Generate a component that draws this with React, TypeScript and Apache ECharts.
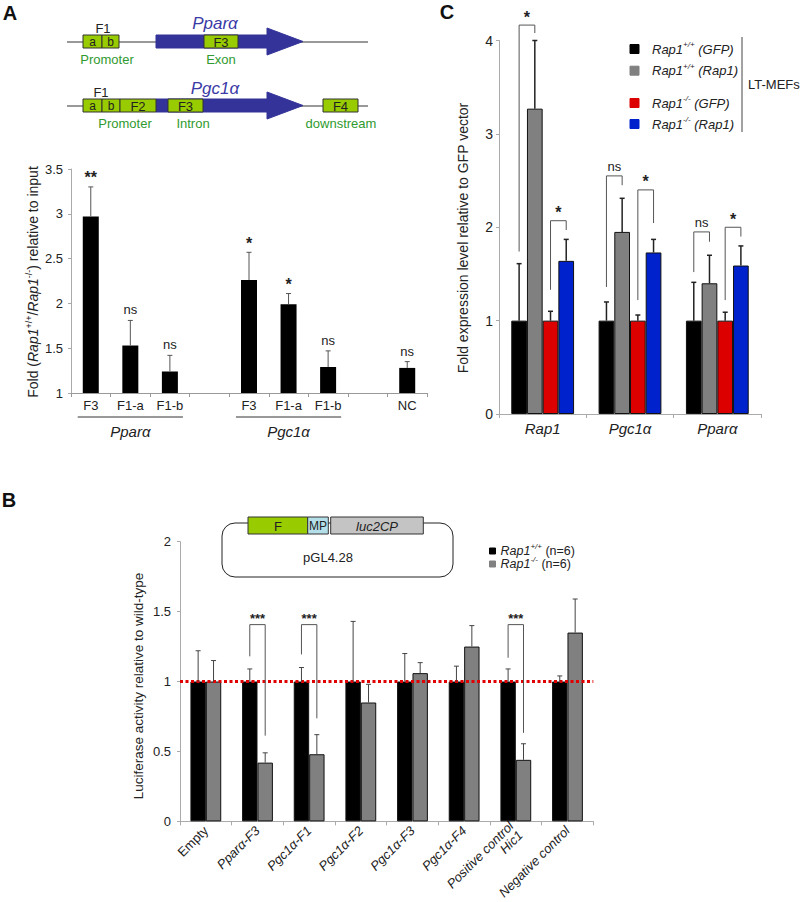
import React, { useEffect, useRef } from 'react';
import * as echarts from 'echarts';

const FONT = '"Liberation Sans", Arial, Helvetica, sans-serif';

// ---------- Panel A (ChIP) ----------
const aCategories = ['F3', 'F1-a', 'F1-b', '', 'F3', 'F1-a', 'F1-b', '', 'NC'];
const aValues = [2.97, 1.53, 1.24, null, 2.26, 1.99, 1.29, null, 1.28];
const aErrorTops = [3.3, 1.81, 1.42, null, 2.57, 2.11, 1.47, null, 1.35];
const aSignificance = ['**', 'ns', 'ns', '', '*', '*', 'ns', '', 'ns'];
const aGroupNames = ['Pparα', 'Pgc1α'];
const aGroupRanges = [[0, 2], [4, 6]];

// ---------- Panel C (expression) ----------
const cCategories = ['Rap1', 'Pgc1α', 'Pparα'];
const cSeriesNames = ['Rap1+/+ (GFP)', 'Rap1+/+ (Rap1)', 'Rap1-/- (GFP)', 'Rap1-/- (Rap1)'];
const cWtGfp = [1, 1, 1];
const cWtRap1 = [3.27, 1.95, 1.4];
const cKoGfp = [1, 1, 1];
const cKoRap1 = [1.64, 1.73, 1.59];
const cWtGfpErr = [1.61, 1.2, 1.41];
const cWtRap1Err = [4.0, 2.31, 1.7];
const cKoGfpErr = [1.1, 1.06, 1.09];
const cKoRap1Err = [1.87, 1.87, 1.8];
// [category, left series, right series, top, left leg end, right leg end]
const cBrackets = [
  [0, 0, 1, 4.165, 1.74, 4.08],
  [0, 2, 3, 2.07, 1.33, 1.97],
  [1, 0, 1, 2.55, 1.36, 2.45],
  [1, 2, 3, 2.4, 1.22, 2.045],
  [2, 0, 1, 1.95, 1.52, 1.845],
  [2, 2, 3, 2.0, 1.22, 1.9],
];
const cBracketLabels = ['*', '*', 'ns', '*', 'ns', '*'];
const cLegendGroup = 'LT-MEFs';

// ---------- Panel B (luciferase) ----------
const bCategories = ['Empty', 'Pparα-F3', 'Pgc1α-F1', 'Pgc1α-F2', 'Pgc1α-F3', 'Pgc1α-F4', 'Positive control\nHic1', 'Negative control'];
const bSeriesNames = ['Rap1+/+ (n=6)', 'Rap1-/- (n=6)'];
const bWt = [1, 1, 1, 1, 1, 1, 1, 1];
const bKo = [1, 0.42, 0.48, 0.85, 1.06, 1.25, 0.44, 1.35];
const bWtErr = [1.22, 1.09, 1.1, 1.43, 1.2, 1.11, 1.09, 1.04];
const bKoErr = [1.15, 0.49, 0.62, 0.98, 1.135, 1.4, 0.555, 1.59];
// [category, top, left leg end, right leg end]
const bBrackets = [
  [1, 1.407, 1.18, 0.613],
  [2, 1.407, 1.194, 0.737],
  [6, 1.407, 1.17, 0.633],
];
const bBracketLabels = ['***', '***', '***'];
const bReference = 1;

// ---------- layout ----------
const gridA = { left: 71, top: 169, width: 356, height: 224 };
const gridC = { left: 499, top: 40.5, width: 262, height: 373.5 };
const gridB = { left: 180, top: 541.7, width: 413.3, height: 281.3 };
const bwA = 16;
const bwC = 15.7;
const bwB = 15.4;

const GREEN_BOX = '#99cc00';
const GREEN_TXT = '#2f9a2f';
const BLUE_GENE = '#333399';
const BLUE_TXT = '#3a3aa6';

function txt(x: number, y: number, text: string, o: any = {}) {
  return {
    type: 'text',
    x,
    y,
    rotation: o.rotation || 0,
    silent: true,
    style: {
      text,
      fill: o.fill || '#222',
      fontSize: o.fontSize || 13,
      fontFamily: FONT,
      fontStyle: o.italic ? 'italic' : 'normal',
      fontWeight: o.bold ? 'bold' : 'normal',
      align: o.align || 'center',
      verticalAlign: o.va || 'middle',
      textAlign: o.align || 'center',
      textVerticalAlign: o.va || 'middle',
      rich: o.rich,
    },
  };
}
function rect(x: number, y: number, w: number, h: number, fill: string, stroke = '#333', r = 0) {
  return { type: 'rect', silent: true, shape: { x, y, width: w, height: h, r }, style: { fill, stroke, lineWidth: 1 } };
}
function line(x1: number, y1: number, x2: number, y2: number, stroke = '#333', lw = 1) {
  return { type: 'line', silent: true, shape: { x1, y1, x2, y2 }, style: { stroke, lineWidth: lw } };
}
function arrow(x0: number, x1: number, tip: number, yc: number, hb: number, hh: number) {
  return {
    type: 'polygon',
    silent: true,
    shape: {
      points: [
        [x0, yc - hb], [x1, yc - hb], [x1, yc - hh], [tip, yc], [x1, yc + hh], [x1, yc + hb], [x0, yc + hb],
      ],
    },
    style: { fill: BLUE_GENE, stroke: BLUE_GENE },
  };
}

function supRich(size: number) {
  return {
    i: { fontStyle: 'italic', fontSize: size, fontFamily: FONT, lineHeight: size + 4, fill: '#222' },
    n: { fontSize: size, fontFamily: FONT, lineHeight: size + 4, fill: '#222' },
    s: { fontStyle: 'italic', fontSize: Math.round(size * 0.62), fontFamily: FONT, verticalAlign: 'top', lineHeight: size + 4, fill: '#222' },
    sn: { fontSize: Math.round(size * 0.62), fontFamily: FONT, verticalAlign: 'top', lineHeight: size + 4, fill: '#222' },
  };
}
function genoRich(name: string, restItalic: boolean) {
  const m = name.match(/^(Rap1)([+\-]\/[+\-]) (.*)$/);
  if (!m) return name;
  return `{i|${m[1]}}{s|${m[2]}}{${restItalic ? 'i' : 'n'}| ${m[3]}}`;
}

function errorSeries(axisIdx: number, data: any[], n: number, bw: number, stroke: string, lw: number, labels?: string[]) {
  return {
    type: 'custom',
    xAxisIndex: axisIdx,
    yAxisIndex: axisIdx,
    z: 5,
    silent: true,
    clip: false,
    data,
    encode: { x: 0, y: 1 },
    renderItem: (params: any, api: any) => {
      const cat = api.value(0);
      const base = api.coord([cat, api.value(1)]);
      const top = api.coord([cat, api.value(2)]);
      const x = base[0] + (api.value(3) - (n - 1) / 2) * bw;
      const children: any[] = [
        { type: 'line', shape: { x1: x, y1: base[1], x2: x, y2: top[1] }, style: { stroke, lineWidth: lw } },
        { type: 'line', shape: { x1: x - 2.5, y1: top[1], x2: x + 2.5, y2: top[1] }, style: { stroke, lineWidth: lw } },
      ];
      if (labels) {
        const lab = labels[cat];
        if (lab) {
          const isStar = lab.indexOf('*') >= 0;
          children.push({
            type: 'text',
            x,
            y: top[1] - (isStar ? 1 : 4),
            style: {
              text: lab,
              fontSize: isStar ? 16 : 13,
              fontFamily: FONT,
              fontWeight: isStar ? 'bold' : 'normal',
              fill: '#222',
              align: 'center',
              verticalAlign: 'bottom',
              textAlign: 'center',
              textVerticalAlign: 'bottom',
            },
          });
        }
      }
      return { type: 'group', children };
    },
  };
}

function bracketSeries(axisIdx: number, data: any[], n: number, bw: number, labels: string[], starSize: number, nsSize: number) {
  return {
    type: 'custom',
    xAxisIndex: axisIdx,
    yAxisIndex: axisIdx,
    z: 6,
    silent: true,
    clip: false,
    data,
    encode: { x: 0, y: 1 },
    renderItem: (params: any, api: any) => {
      const cat = api.value(0);
      const cx = api.coord([cat, 0])[0];
      const top = api.coord([cat, api.value(1)])[1];
      const lb = api.coord([cat, api.value(2)])[1];
      const rb = api.coord([cat, api.value(3)])[1];
      const xl = cx + (api.value(4) - (n - 1) / 2) * bw;
      const xr = cx + (api.value(5) - (n - 1) / 2) * bw;
      const lab = labels[params.dataIndex];
      const isStar = lab.indexOf('*') >= 0;
      return {
        type: 'group',
        children: [
          { type: 'polyline', shape: { points: [[xl, lb], [xl, top], [xr, top], [xr, rb]] }, style: { stroke: '#555', fill: 'none', lineWidth: 1 } },
          {
            type: 'text',
            x: (xl + xr) / 2,
            y: top - (isStar ? 0 : 3),
            style: {
              text: lab,
              fontSize: isStar ? starSize : nsSize,
              fontWeight: isStar ? 'bold' : 'normal',
              fontFamily: FONT,
              fill: '#222',
              align: 'center',
              verticalAlign: 'bottom',
              textAlign: 'center',
              textVerticalAlign: 'bottom',
            },
          },
        ],
      };
    },
  };
}

function yAxisBase(gridIndex: number, min: number, max: number, interval: number, fontSize: number, margin: number) {
  return {
    type: 'value',
    gridIndex,
    min,
    max,
    interval,
    splitLine: { show: false },
    axisLine: { show: true, lineStyle: { color: '#aaa', width: 1 } },
    axisTick: { show: true, length: 3, lineStyle: { color: '#aaa' } },
    axisLabel: { fontSize, color: '#222', fontFamily: FONT, margin },
  };
}

export default function App() {
  const ref = useRef<HTMLDivElement>(null);
  useEffect(() => {
    const chart = echarts.init(ref.current!, undefined, { renderer: 'svg' });

    const slotA = gridA.width / aCategories.length;
    const graphic: any[] = [];

    // Panel letters
    graphic.push(txt(10, 13, 'A', { fontSize: 20, bold: true, fill: '#111' }));
    graphic.push(txt(447, 12, 'C', { fontSize: 20, bold: true, fill: '#111' }));
    graphic.push(txt(9, 500, 'B', { fontSize: 20, bold: true, fill: '#111' }));

    // Panel A gene diagram - Ppar alpha
    graphic.push(line(67, 42, 368, 42));
    graphic.push(arrow(156, 267, 303, 41.5, 6.5, 13.5));
    graphic.push(rect(83, 35, 19, 13, GREEN_BOX));
    graphic.push(rect(102, 35, 17, 13, GREEN_BOX));
    graphic.push(rect(204, 35, 34, 13, GREEN_BOX));
    graphic.push(txt(92.5, 42, 'a', { fontSize: 12 }));
    graphic.push(txt(110.5, 42, 'b', { fontSize: 12 }));
    graphic.push(txt(221, 42, 'F3', { fontSize: 13 }));
    graphic.push(txt(103, 28, 'F1', { fontSize: 13 }));
    graphic.push(txt(107, 59, 'Promoter', { fontSize: 13, fill: GREEN_TXT }));
    graphic.push(txt(221, 59, 'Exon', { fontSize: 13, fill: GREEN_TXT }));
    graphic.push(txt(215, 23, 'Pparα', { fontSize: 17, italic: true, fill: BLUE_TXT }));

    // Pgc1 alpha
    graphic.push(line(67, 106, 368, 106));
    graphic.push(arrow(156, 267, 303, 105.5, 6.5, 13.5));
    graphic.push(rect(83, 99, 19, 13, GREEN_BOX));
    graphic.push(rect(102, 99, 18, 13, GREEN_BOX));
    graphic.push(rect(120, 99, 36, 13, GREEN_BOX));
    graphic.push(rect(168, 99, 35, 13, GREEN_BOX));
    graphic.push(rect(323, 99, 35, 13, GREEN_BOX));
    graphic.push(txt(92.5, 106, 'a', { fontSize: 12 }));
    graphic.push(txt(111, 106, 'b', { fontSize: 12 }));
    graphic.push(txt(138, 106, 'F2', { fontSize: 13 }));
    graphic.push(txt(185.5, 106, 'F3', { fontSize: 13 }));
    graphic.push(txt(340.5, 106, 'F4', { fontSize: 13 }));
    graphic.push(txt(101, 92, 'F1', { fontSize: 13 }));
    graphic.push(txt(125, 123, 'Promoter', { fontSize: 13, fill: GREEN_TXT }));
    graphic.push(txt(193, 123, 'Intron', { fontSize: 13, fill: GREEN_TXT }));
    graphic.push(txt(341, 123, 'downstream', { fontSize: 13, fill: GREEN_TXT }));
    graphic.push(txt(215, 88, 'Pgc1α', { fontSize: 17, italic: true, fill: BLUE_TXT }));

    // Panel A y title
    graphic.push(
      txt(33, 282, '{n|Fold (}{i|Rap1}{sn|+/+}{n|/}{i|Rap1}{sn|-/-}{n|) relative to input}', {
        rotation: Math.PI / 2,
        rich: supRich(14),
      })
    );
    // Panel A group labels
    aGroupNames.forEach((g, gi) => {
      const [from, to] = aGroupRanges[gi];
      const x1 = gridA.left + (from + 0.5) * slotA - slotA * 0.33;
      const x2 = gridA.left + (to + 0.5) * slotA + slotA * 0.33;
      graphic.push(line(x1, 417, x2, 417, '#333'));
      graphic.push(txt((x1 + x2) / 2, 431, g, { fontSize: 15, italic: true }));
    });

    // Panel C y title and legend
    graphic.push(txt(463, 238, 'Fold expression level relative to GFP vector', { rotation: Math.PI / 2, fontSize: 14 }));
    const cColors = ['#000000', '#808080', '#dd0000', '#0022cc'];
    const cLegendY = [49, 70.7, 103, 124];
    cSeriesNames.forEach((name, i) => {
      graphic.push(rect(630, cLegendY[i] - 4.5, 9, 9, cColors[i], cColors[i]));
      graphic.push(txt(652, cLegendY[i], genoRich(name, true), { align: 'left', rich: supRich(13) }));
    });
    graphic.push(line(742, 37, 742, 132, '#444'));
    graphic.push(txt(748, 84, cLegendGroup, { align: 'left', fontSize: 13 }));

    // Panel B plasmid
    graphic.push({ type: 'rect', silent: true, shape: { x: 222, y: 523, width: 231, height: 54, r: 13 }, style: { fill: 'none', stroke: '#222', lineWidth: 1 } });
    graphic.push(rect(248, 517, 59.7, 17, GREEN_BOX, '#333'));
    graphic.push(rect(307.7, 517, 20.6, 17, '#b4dfe8', '#333'));
    graphic.push(rect(330.7, 517, 92.6, 17, '#c4c4c4', '#333'));
    graphic.push(txt(278, 526, 'F', { fontSize: 13 }));
    graphic.push(txt(318, 526, 'MP', { fontSize: 12 }));
    graphic.push(txt(377, 526, 'luc2CP', { fontSize: 13, italic: true }));
    graphic.push(txt(328, 557, 'pGL4.28', { fontSize: 13 }));

    // Panel B legend
    const bColors = ['#000000', '#808080'];
    const bLegendY = [551, 564];
    bSeriesNames.forEach((name, i) => {
      graphic.push(rect(489.5, bLegendY[i] - 3, 6, 6, bColors[i], bColors[i]));
      graphic.push(txt(500.5, bLegendY[i], genoRich(name, false), { align: 'left', rich: supRich(12.5) }));
    });
    // Panel B y title
    graphic.push(txt(138, 686, 'Luciferase activity relative to wild-type', { rotation: Math.PI / 2, fontSize: 13.5 }));

    const barItem = (color: string) => ({ color, borderColor: '#111', borderWidth: 1 });

    const option: any = {
      animation: false,
      backgroundColor: '#ffffff',
      textStyle: { fontFamily: FONT },
      grid: [
        { ...gridA, containLabel: false },
        { ...gridC, containLabel: false },
        { ...gridB, containLabel: false },
      ],
      xAxis: [
        {
          type: 'category',
          gridIndex: 0,
          data: aCategories,
          axisLine: { show: true, lineStyle: { color: '#999' } },
          axisTick: { show: true, length: 4, lineStyle: { color: '#999' } },
          axisLabel: { interval: 0, fontSize: 13, color: '#222', fontFamily: FONT, margin: 6 },
        },
        {
          type: 'category',
          gridIndex: 1,
          data: cCategories,
          axisLine: { show: true, lineStyle: { color: '#aaa' } },
          axisTick: { show: true, length: 4, lineStyle: { color: '#aaa' } },
          axisLabel: { interval: 0, fontSize: 15, fontStyle: 'italic', color: '#222', fontFamily: FONT, margin: 7 },
        },
        {
          type: 'category',
          gridIndex: 2,
          data: bCategories,
          axisLine: { show: true, lineStyle: { color: '#aaa' } },
          axisTick: { show: true, length: 4, lineStyle: { color: '#aaa' } },
          axisLabel: {
            interval: 0,
            rotate: 45,
            fontSize: 13,
            color: '#222',
            fontFamily: FONT,
            margin: 7,
            formatter: (v: string) => (v === 'Empty' ? v : v.split('\n').map((s) => `{i|${s}}`).join('\n')),
            rich: { i: { fontStyle: 'italic', fontSize: 13, fontFamily: FONT, color: '#222' } },
          },
        },
      ],
      yAxis: [
        yAxisBase(0, 1, 3.5, 0.5, 13, 8),
        yAxisBase(1, 0, 4, 1, 14, 6),
        yAxisBase(2, 0, 2, 0.5, 13, 9),
      ],
      series: [
        // Panel A
        {
          type: 'bar',
          xAxisIndex: 0,
          yAxisIndex: 0,
          barWidth: bwA,
          data: aValues.map((v) => (v == null ? '-' : v)),
          itemStyle: { color: '#000' },
        },
        errorSeries(
          0,
          aValues.map((v, i) => (v == null ? null : [i, v, aErrorTops[i], 0])).filter((d) => d),
          1,
          bwA,
          '#555',
          1,
          aSignificance
        ),
        // Panel C
        ...[cWtGfp, cWtRap1, cKoGfp, cKoRap1].map((vals, k) => ({
          type: 'bar',
          name: cSeriesNames[k],
          xAxisIndex: 1,
          yAxisIndex: 1,
          barWidth: bwC,
          barGap: '0%',
          data: vals,
          itemStyle: barItem(cColors[k]),
        })),
        errorSeries(
          1,
          [cWtGfpErr, cWtRap1Err, cKoGfpErr, cKoRap1Err].flatMap((errs, k) =>
            errs.map((e, i) => [i, [cWtGfp, cWtRap1, cKoGfp, cKoRap1][k][i], e, k])
          ),
          4,
          bwC,
          '#222',
          1.5
        ),
        bracketSeries(1, cBrackets.map((b) => [b[0], b[3], b[4], b[5], b[1], b[2]]), 4, bwC, cBracketLabels, 16, 13),
        // Panel B
        ...[bWt, bKo].map((vals, k) => ({
          type: 'bar',
          name: bSeriesNames[k],
          xAxisIndex: 2,
          yAxisIndex: 2,
          barWidth: bwB,
          barGap: '0%',
          data: vals,
          itemStyle: barItem(bColors[k]),
          markLine:
            k === 1
              ? {
                  silent: true,
                  symbol: 'none',
                  label: { show: false },
                  lineStyle: { color: '#e00000', width: 3, type: [3, 2.5] },
                  data: [{ yAxis: bReference }],
                }
              : undefined,
        })),
        errorSeries(
          2,
          [bWtErr, bKoErr].flatMap((errs, k) => errs.map((e, i) => [i, [bWt, bKo][k][i], e, k])),
          2,
          bwB,
          '#444',
          1
        ),
        bracketSeries(2, bBrackets.map((b) => [b[0], b[1], b[2], b[3], 0, 1]), 2, bwB, bBracketLabels, 13, 12),
      ],
      graphic: { elements: graphic },
    };

    chart.setOption(option);
    return () => chart.dispose();
  }, []);

  return (
    <div
      ref={ref}
      style={{ position: 'absolute', left: 0, top: 0, width: 800, height: 902, background: '#fff' }}
    />
  );
}
